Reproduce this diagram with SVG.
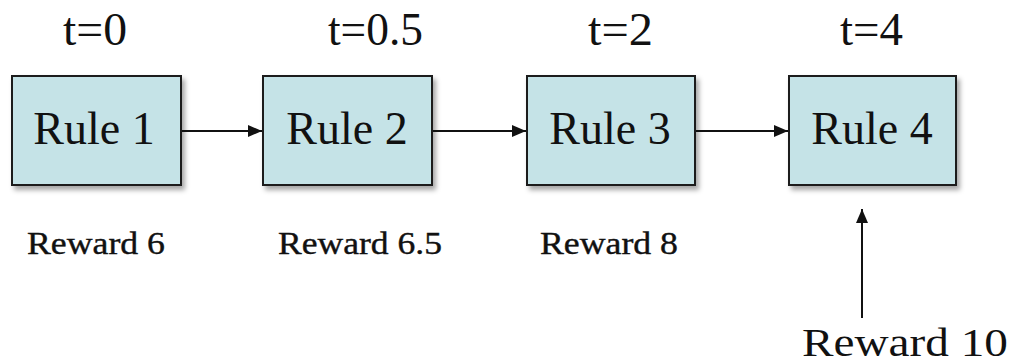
<svg xmlns="http://www.w3.org/2000/svg" width="1013" height="364" viewBox="0 0 1013 364">
  <style>
    .box { fill: #c5e3e7; stroke: #1a1a1a; stroke-width: 2; }
    .rule { text-anchor: middle; }
    .reward { stroke: #111; stroke-width: 0.4; }
    .link { stroke: #111; stroke-width: 2; fill: none; marker-end: url(#head); }
  </style>
  <defs>
    <marker id="head" viewBox="0 0 14 12" refX="14" refY="6" markerWidth="14" markerHeight="12" markerUnits="userSpaceOnUse" orient="auto">
      <path d="M0,0 L14,6 L0,12 Z" fill="#111"/>
    </marker>
    <filter id="shadow" x="-10%" y="-10%" width="130%" height="130%">
      <feDropShadow dx="3" dy="4" stdDeviation="2.5" flood-color="#000" flood-opacity="0.35"/>
    </filter>
  </defs>

  <rect width="1013" height="364" fill="#ffffff"/>

  <g font-family="Liberation Serif, Times New Roman, serif" fill="#111">
    <!-- time labels -->
    <g id="times" font-size="46">
      <text x="63" y="45" textLength="64" lengthAdjust="spacingAndGlyphs">t=0</text>
      <text x="328" y="45" textLength="95" lengthAdjust="spacingAndGlyphs">t=0.5</text>
      <text x="588" y="45" textLength="65" lengthAdjust="spacingAndGlyphs">t=2</text>
      <text x="840" y="45" textLength="63" lengthAdjust="spacingAndGlyphs">t=4</text>
    </g>

    <!-- rule nodes -->
    <g id="rule1" font-size="46">
      <rect class="box" x="12" y="76" width="169" height="109" filter="url(#shadow)"/>
      <text class="rule" x="94" y="144">Rule 1</text>
    </g>
    <g id="rule2" font-size="46">
      <rect class="box" x="263" y="76" width="169" height="109" filter="url(#shadow)"/>
      <text class="rule" x="347" y="144">Rule 2</text>
    </g>
    <g id="rule3" font-size="46">
      <rect class="box" x="527" y="76" width="168" height="109" filter="url(#shadow)"/>
      <text class="rule" x="610" y="144">Rule 3</text>
    </g>
    <g id="rule4" font-size="46">
      <rect class="box" x="789" y="76" width="167" height="109" filter="url(#shadow)"/>
      <text class="rule" x="872" y="144">Rule 4</text>
    </g>

    <!-- reward labels -->
    <g id="rewards" font-size="32">
      <text class="reward" x="27" y="254" textLength="138" lengthAdjust="spacingAndGlyphs">Reward 6</text>
      <text class="reward" x="278" y="254" textLength="164" lengthAdjust="spacingAndGlyphs">Reward 6.5</text>
      <text class="reward" x="540" y="254" textLength="138" lengthAdjust="spacingAndGlyphs">Reward 8</text>
      <text x="802" y="356" font-size="40" textLength="206" lengthAdjust="spacingAndGlyphs">Reward 10</text>
    </g>
  </g>

  <!-- connectors -->
  <g id="connectors">
    <line class="link" x1="182" y1="131" x2="262" y2="131"/>
    <line class="link" x1="433" y1="131" x2="526" y2="131"/>
    <line class="link" x1="696" y1="131" x2="788" y2="131"/>
    <line class="link" x1="862" y1="318" x2="862" y2="209"/>
  </g>
</svg>
